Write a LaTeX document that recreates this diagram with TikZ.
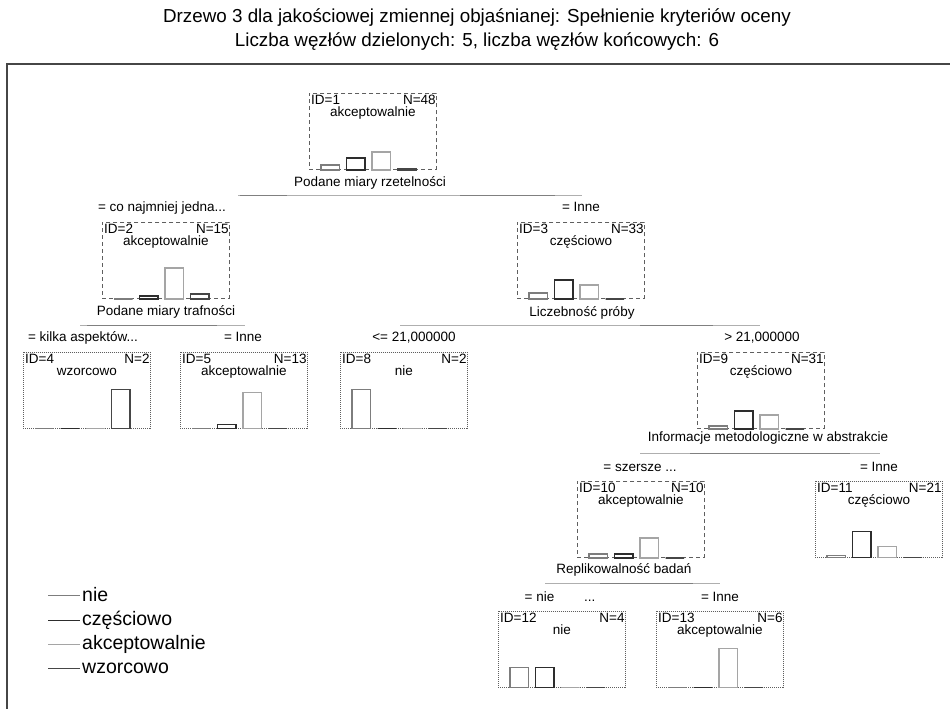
\documentclass[tikz,border=0pt]{standalone}
\usepackage{fontspec}
\setmainfont{Liberation Sans}
\definecolor{cnie}{RGB}{125,125,125}
\definecolor{ccz}{RGB}{45,45,45}
\definecolor{cak}{RGB}{165,165,165}
\definecolor{cwz}{RGB}{70,70,70}
\definecolor{cbox}{RGB}{95,95,95}
\definecolor{csplit}{RGB}{175,175,175}
\definecolor{cframe}{RGB}{70,70,70}
\tikzset{
  box/.style={draw=cbox, line width=0.9pt, minimum width=127pt, minimum height=76pt, inner sep=0pt, anchor=north west},
  inbox/.style={box, dash pattern=on 4pt off 3pt},
  leafbox/.style={box, dash pattern=on 1pt off 1pt, line width=0.8pt},
  lbl/.style={font=\fontsize{13.5}{14}\selectfont, inner sep=0pt, text height=9.5pt, text depth=3pt},
  idt/.style={font=\fontsize{13.5}{14}\selectfont, inner sep=0pt},
  bar/.style={line width=1.2pt},
  splitline/.style={draw=csplit, line width=1pt},
  splitdark/.style={draw=gray, line width=1pt},
  legline/.style={line width=1pt},
  legtext/.style={font=\fontsize{19.5}{20}\selectfont, inner sep=0pt, anchor=west},
  ttl/.style={font=\fontsize{18.8}{20}\selectfont, inner sep=0pt}
}
\newcommand\tnode[6]{% name, x, y, style, id, N
  \node[#4] (#1) at (#2,#3) {};
  \node[idt, anchor=base west] (#1id) at ([xshift=2pt,yshift=-11pt]#1.north west) {ID=#5};
  \node[idt, anchor=base east] (#1n) at ([xshift=-1pt,yshift=-11pt]#1.north east) {N=#6};
}
\newcommand\tclass[2]{\node[idt, anchor=base] (#1cl) at ([yshift=-23pt]#1.north) {#2};}
\newcommand\tbars[5]{%
  \draw[bar, cnie] ([xshift=12pt]#1.south west) rectangle ++(18.5,-#2);
  \draw[bar, ccz] ([xshift=37.5pt]#1.south west) rectangle ++(18.5,-#3);
  \draw[bar, cak] ([xshift=63pt]#1.south west) rectangle ++(18.5,-#4);
  \draw[bar, cwz] ([xshift=88.5pt]#1.south west) rectangle ++(18.5,-#5);
}
\begin{document}
\begin{tikzpicture}[x=1pt, y=-1pt]
\useasboundingbox (0,0) rectangle (950,709);
\fill[white] (0,0) rectangle (950,709);
% frame
\coordinate (fbl) at (7,712);
\coordinate (ftl) at (7,64);
\coordinate (ftr) at (953,64);
\draw[line width=1.4pt, draw=cframe] (fbl) -- (ftl) -- (ftr);
% titles
\node[ttl] (t1) at (477,18) {Drzewo 3 dla jakościowej zmiennej objaśnianej: Spełnienie kryteriów oceny};
\node[ttl] (t2) at (477,42) {Liczba węzłów dzielonych: 5, liczba węzłów końcowych: 6};

% nodes
\tnode{n1}{309}{93}{inbox}{1}{48}\tclass{n1}{akceptowalnie}
\tbars{n1}{5}{12}{18}{1}
\tnode{n2}{102}{222}{inbox}{2}{15}\tclass{n2}{akceptowalnie}
\tbars{n2}{0}{3}{31}{5}
\tnode{n3}{517}{222}{inbox}{3}{33}\tclass{n3}{częściowo}
\tbars{n3}{6}{19}{14}{0}
\tnode{n4}{23}{352}{leafbox}{4}{2}\tclass{n4}{wzorcowo}
\tbars{n4}{0}{0}{0}{39}
\tnode{n5}{180}{352}{leafbox}{5}{13}\tclass{n5}{akceptowalnie}
\tbars{n5}{0}{4}{36}{0}
\tnode{n8}{340}{352}{leafbox}{8}{2}\tclass{n8}{nie}
\tbars{n8}{39}{0}{0}{0}
\tnode{n9}{697}{352}{inbox}{9}{31}\tclass{n9}{częściowo}
\tbars{n9}{3}{18}{14}{0}
\tnode{n10}{577}{481}{inbox}{10}{10}\tclass{n10}{akceptowalnie}
\tbars{n10}{4}{4}{20}{0}
\tnode{n11}{815}{481}{leafbox}{11}{21}\tclass{n11}{częściowo}
\tbars{n11}{2}{26}{11}{0}
\tnode{n12}{498}{611}{leafbox}{12}{4}\tclass{n12}{nie}
\tbars{n12}{20}{20}{0}{0}
\tnode{n13}{656}{611}{leafbox}{13}{6}\tclass{n13}{akceptowalnie}
\tbars{n13}{0}{0}{39}{0}

% split variable labels
\node[lbl] (v1) at (370,183) {Podane miary rzetelności};
\node[lbl] (v2) at (166,312) {Podane miary trafności};
\node[lbl] (v3) at (582,313) {Liczebność próby};
\node[lbl] (v9) at (768,438) {Informacje metodologiczne w abstrakcie};
\node[lbl] (v10) at (624,570) {Replikowalność badań};

% split lines
\coordinate (s1a) at (238,195); \coordinate (s1b) at (582,195);
\coordinate (s1c) at (240,195); \coordinate (s1d) at (287,195);
\coordinate (s1e) at (460,195); \coordinate (s1f) at (555,195);
\draw[splitline] (s1a) -- (s1b);
\draw[splitdark] (s1c) -- (s1d); \draw[splitdark] (s1e) -- (s1f);

\coordinate (s2a) at (80,325); \coordinate (s2b) at (245,325);
\coordinate (s2c) at (87,325); \coordinate (s2d) at (217,325);
\draw[splitline] (s2a) -- (s2b); \draw[splitdark] (s2c) -- (s2d);

\coordinate (s3a) at (400,325); \coordinate (s3b) at (760,325);
\coordinate (s3c) at (640,325); \coordinate (s3d) at (713,325);
\draw[splitline] (s3a) -- (s3b); \draw[splitdark] (s3c) -- (s3d);

\coordinate (s9a) at (640,453); \coordinate (s9b) at (880,453);
\coordinate (s9c) at (690,453); \coordinate (s9d) at (850,453);
\draw[splitline] (s9a) -- (s9b); \draw[splitdark] (s9c) -- (s9d);

\coordinate (s10a) at (545,583); \coordinate (s10b) at (720,583);
\coordinate (s10c) at (600,583); \coordinate (s10d) at (693,583);
\draw[splitline] (s10a) -- (s10b); \draw[splitdark] (s10c) -- (s10d);

% branch labels
\node[lbl] (b2) at (162,208) {= co najmniej jedna...};
\node[lbl] (b3) at (581,208) {= Inne};
\node[lbl] (b4) at (83,338) {= kilka aspektów...};
\node[lbl] (b5) at (243,338) {= Inne};
\node[lbl] (b8) at (414,338) {<= 21,000000};
\node[lbl] (b9) at (762,338) {> 21,000000};
\node[lbl] (b10) at (640,468) {= szersze ...};
\node[lbl] (b11) at (879,468) {= Inne};
\node[lbl] (b12) at (560,598) {= nie\hspace{2.2em}...};
\node[lbl] (b13) at (720,598) {= Inne};

% legend
\coordinate (l1a) at (48,595); \coordinate (l1b) at (80,595);
\coordinate (l2a) at (48,620); \coordinate (l2b) at (80,620);
\coordinate (l3a) at (48,644); \coordinate (l3b) at (80,644);
\coordinate (l4a) at (48,668); \coordinate (l4b) at (80,668);
\draw[legline, cnie] (l1a) -- (l1b);
\draw[legline, ccz] (l2a) -- (l2b);
\draw[legline, cak] (l3a) -- (l3b);
\draw[legline, cwz] (l4a) -- (l4b);
\node[legtext] (lt1) at ([xshift=2pt]l1b) {nie};
\node[legtext] (lt2) at ([xshift=2pt]l2b) {częściowo};
\node[legtext] (lt3) at ([xshift=2pt]l3b) {akceptowalnie};
\node[legtext] (lt4) at ([xshift=2pt]l4b) {wzorcowo};
\end{tikzpicture}
\end{document}
